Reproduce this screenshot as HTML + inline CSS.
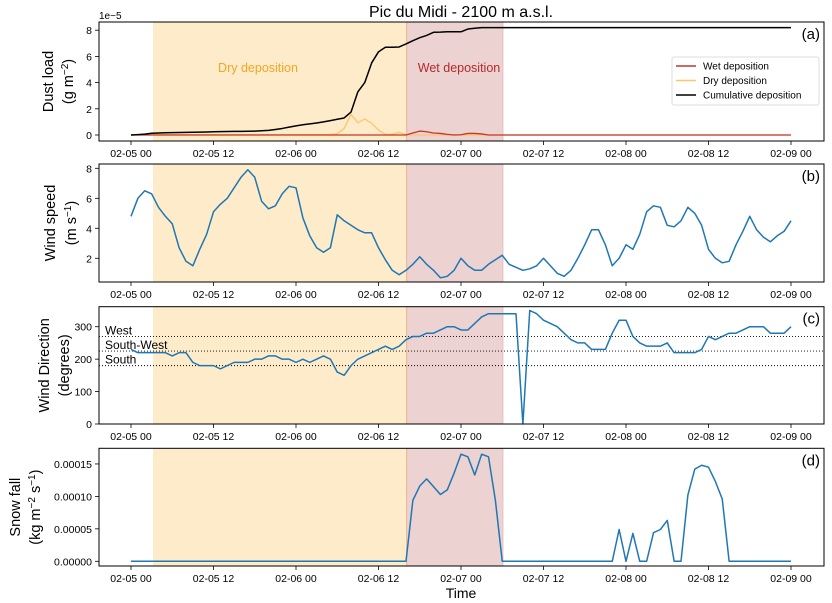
<!DOCTYPE html>
<html><head><meta charset="utf-8"><style>
body{margin:0;background:#fff;}
svg{display:block;font-family:"Liberation Sans","DejaVu Sans",sans-serif;}
</style></head><body>
<svg id="chart" width="832" height="603" viewBox="0 0 832 603" xmlns="http://www.w3.org/2000/svg">
<text x="461" y="17" font-size="16" text-anchor="middle">Pic du Midi - 2100 m a.s.l.</text>
<text x="461" y="598" font-size="14" text-anchor="middle">Time</text>
</svg>
<script>
// ---- data (hourly from 02-05 00 to 02-09 00) ----
const xTickLabels = ["02-05 00","02-05 12","02-06 00","02-06 12","02-07 00","02-07 12","02-08 00","02-08 12","02-09 00"];
const xTickHours = [0,12,24,36,48,60,72,84,96];
const dryPeriod = [3.2, 40.1];
const wetPeriod = [40.1, 54.1];
const cumulative = [0,0.03,0.07,0.13,0.15,0.17,0.18,0.19,0.2,0.21,0.22,0.23,0.25,0.26,0.27,0.28,0.28,0.29,0.3,0.32,0.35,0.42,0.5,0.6,0.7,0.78,0.85,0.92,1.0,1.1,1.2,1.3,1.75,3.3,4.0,5.5,6.35,6.7,6.7,6.72,6.95,7.2,7.43,7.6,7.84,7.85,7.88,7.88,7.88,8.09,8.15,8.2,8.2,8.2,8.2,8.2,8.2,8.2,8.2,8.2,8.2,8.2,8.2,8.2,8.2,8.2,8.2,8.2,8.2,8.2,8.2,8.2,8.2,8.2,8.2,8.2,8.2,8.2,8.2,8.2,8.2,8.2,8.2,8.2,8.2,8.2,8.2,8.2,8.2,8.2,8.2,8.2,8.2,8.2,8.2,8.2,8.2];
const dryDep = [0,0.02,0.02,0.03,0.03,0.03,0.03,0.03,0.03,0.03,0.03,0.03,0.03,0.03,0.03,0.03,0.03,0.03,0.03,0.03,0.03,0.03,0.03,0.03,0.03,0.03,0.03,0.03,0.03,0.05,0.1,0.5,1.58,0.94,1.22,0.9,0.38,0.05,0.05,0.2,0.05,0,0,0,0,0,0,0,0,0,0,0,0,0,0,0,0,0,0,0,0,0,0,0,0,0,0,0,0,0,0,0,0,0,0,0,0,0,0,0,0,0,0,0,0,0,0,0,0,0,0,0,0,0,0,0,0];
const wetDep = [0,0,0,0,0,0,0,0,0,0,0,0,0,0,0,0,0,0,0,0,0,0,0,0,0,0,0,0,0,0,0,0,0,0,0,0,0,0,0,0,0,0.15,0.3,0.25,0.15,0.12,0.05,0,0.02,0.12,0.12,0.08,0,0,0,0,0,0,0,0,0,0,0,0,0,0,0,0,0,0,0,0,0,0,0,0,0,0,0,0,0,0,0,0,0,0,0,0,0,0,0,0,0,0,0,0,0];
const windSpeed = [4.8,6.0,6.5,6.3,5.4,4.8,4.3,2.7,1.8,1.5,2.6,3.6,5.1,5.6,6.0,6.7,7.4,7.9,7.4,5.8,5.3,5.5,6.3,6.8,6.7,4.7,3.5,2.7,2.4,2.7,4.9,4.5,4.2,3.9,3.7,3.7,2.7,1.9,1.2,0.9,1.2,1.6,2.1,1.6,1.2,0.7,0.8,1.2,2.0,1.5,1.2,1.2,1.6,1.9,2.2,1.6,1.4,1.2,1.3,1.5,2.0,1.5,1.0,0.8,1.2,2.0,2.9,3.9,3.9,2.9,1.5,2.0,2.9,2.6,3.6,5.1,5.5,5.4,4.2,4.1,4.5,5.4,5.0,4.2,2.6,2.0,1.7,1.8,2.9,3.8,4.8,3.9,3.4,3.1,3.5,3.8,4.5];
const windDir = [230,220,220,220,220,220,210,220,220,190,180,180,180,170,180,190,190,190,200,200,210,210,200,200,190,200,190,200,210,200,160,150,180,200,210,220,230,240,230,240,260,270,270,280,280,290,300,300,290,290,310,330,340,340,340,340,340,0,350,340,320,310,300,280,260,250,250,230,230,230,280,320,320,270,250,240,240,240,250,220,220,220,220,230,270,260,270,280,280,290,300,300,300,280,280,280,300];
const snowFall = [0,0,0,0,0,0,0,0,0,0,0,0,0,0,0,0,0,0,0,0,0,0,0,0,0,0,0,0,0,0,0,0,0,0,0,0,0,0,0,0,0,9.4,11.6,12.7,11.5,10.3,11.0,13.6,16.5,16.1,13.3,16.5,16.1,9.4,0,0,0,0,0,0,0,0,0,0,0,0,0,0,0,0,0,4.9,0,4.3,0,0,4.4,4.9,6.3,0,0,10.2,14.2,14.8,14.5,12.3,9.6,0,0,0,0,0,0,0,0,0,0];
const dustTicks = [0,2,4,6,8];
const speedTicks = [2,4,6,8];
const dirTicks = [0,100,200,300];
const snowTicks = [0,5,10,15];
const snowTickLabels = ["0.00000","0.00005","0.00010","0.00015"];
const dirRefs = [270,225,180];
const dirRefLabels = ["West","South-West","South"];

const NS="http://www.w3.org/2000/svg";
const svg=document.getElementById('chart');
const X0=99,X1=824;
const xs=h=>131+h*6.875;
function el(tag,attrs,parent){const e=document.createElementNS(NS,tag);for(const k in attrs)e.setAttribute(k,attrs[k]);(parent||svg).appendChild(e);return e;}

const panels=[
 {key:'a',top:22,bot:141,y0v:0,y0p:135,scale:13.1,ticks:dustTicks,labels:dustTicks.map(String),ylab:["Dust load","(g m<sup>−2</sup>)"],lx:[48,68]},
 {key:'b',top:164,bot:282,y0v:2,y0p:258.3,scale:15.0,ticks:speedTicks,labels:speedTicks.map(String),ylab:["Wind speed","(m s<sup>−1</sup>)"],lx:[50,71]},
 {key:'c',top:306.7,bot:424,y0v:0,y0p:424,scale:0.3243,ticks:dirTicks,labels:dirTicks.map(String),ylab:["Wind Direction","(degrees)"],lx:[44,64]},
 {key:'d',top:448.3,bot:566,y0v:0,y0p:561.3,scale:6.49,ticks:snowTicks,labels:snowTickLabels,ylab:["Snow fall","(kg m<sup>−2</sup> s<sup>−1</sup>)"],lx:[15,35]}
];
panels.forEach(p=>{p.ys=v=>p.y0p-(v-p.y0v)*p.scale;});

function path(p,arr,color,w,name){
  const d=arr.map((v,i)=>(i?'L':'M')+xs(i).toFixed(2)+','+p.ys(v).toFixed(2)).join('');
  const e=el('path',{d:d,fill:'none',stroke:color,'stroke-width':w,'stroke-linejoin':'round'});
  
  
}

panels.forEach(p=>{
  const g=el('g',{});
  
  
  const dry=el('rect',{x:xs(dryPeriod[0]),y:p.top,width:xs(dryPeriod[1])-xs(dryPeriod[0]),height:p.bot-p.top,fill:'#fdebca'},g);
  
  
  const wet=el('rect',{x:xs(wetPeriod[0]),y:p.top,width:xs(wetPeriod[1])-xs(wetPeriod[0]),height:p.bot-p.top,fill:'#edd2d2'},g);
  
  
  el('line',{x1:xs(wetPeriod[0]),x2:xs(wetPeriod[0]),y1:p.top,y2:p.bot,stroke:'#eab08a','stroke-width':1},g);
  el('line',{x1:xs(wetPeriod[1]),x2:xs(wetPeriod[1]),y1:p.top,y2:p.bot,stroke:'#e6c0c0','stroke-width':1},g);
  // y ticks
  p.ticks.forEach((t,i)=>{
    const y=p.ys(t);
    el('line',{x1:X0-4,x2:X0,y1:y,y2:y,stroke:'#000','stroke-width':0.8},g);
    const tx=el('text',{x:X0-7,y:y+4,'font-size':10.5,'text-anchor':'end'},g);
    tx.textContent=p.labels[i];
    
    
  });
  // x ticks
  xTickHours.forEach((h,i)=>{
    el('line',{x1:xs(h),x2:xs(h),y1:p.bot,y2:p.bot+4,stroke:'#000','stroke-width':0.8},g);
    const tx=el('text',{x:xs(h),y:p.bot+16,'font-size':10.5,'text-anchor':'middle'},g);
    tx.textContent=xTickLabels[i];
    
    
  });
  // y label
  const cy=(p.top+p.bot)/2;
  p.ylab.forEach((s,i)=>{
    const fo=el('text',{x:0,y:0,'font-size':14.5,'text-anchor':'middle',transform:`translate(${p.lx[i]+5},${cy}) rotate(-90)`},g);
    fo.innerHTML=s.replace(/<sup>(.*?)<\/sup>/g,'<tspan baseline-shift="super" font-size="10">$1</tspan>');
    
    
  });
  const lab=el('text',{x:820,y:p.top+17,'font-size':15,'text-anchor':'end'},g);
  lab.textContent='('+p.key+')';
  
  
});

const [pa,pb,pc,pd]=panels;
// panel a
path(pa,dryDep,'#fec66a',1.3,'dry-deposition-line');
path(pa,wetDep,'#c0392b',1.3,'wet-deposition-line');
path(pa,cumulative,'#000',1.5,'cumulative-deposition-line');
let t=el('text',{x:258,y:72,'font-size':12.5,'text-anchor':'middle',fill:'#f5a623'});
t.textContent='Dry deposition';


t=el('text',{x:459,y:72,'font-size':12.5,'text-anchor':'middle',fill:'#b52a2a'});
t.textContent='Wet deposition';


const sci=el('text',{x:99,y:19,'font-size':10});
sci.textContent='1e−5';


// legend
const lg=el('g',{});


el('rect',{x:672,y:57,width:147,height:48,rx:2,fill:'#fff',stroke:'#ddd'},lg);
[['Wet deposition','#c0392b'],['Dry deposition','#fec66a'],['Cumulative deposition','#000']].forEach((e,i)=>{
  const y=66+i*14.5;
  el('line',{x1:676,x2:696,y1:y,y2:y,stroke:e[1],'stroke-width':1.5},lg);
  const tt=el('text',{x:703,y:y+3.5,'font-size':10},lg);
  tt.textContent=e[0];
  
  
});
// panel b
path(pb,windSpeed,'#1f77b4',1.5,'wind-speed-line');
// panel c
dirRefs.forEach((v,i)=>{
  const l=el('line',{x1:X0,x2:X1,y1:pc.ys(v),y2:pc.ys(v),stroke:'#000','stroke-width':0.9,'stroke-dasharray':'1,2'});
  
  
  const tt=el('text',{x:105,y:pc.ys(v)-2,'font-size':12});
  tt.textContent=dirRefLabels[i];
  
  
});
path(pc,windDir,'#1f77b4',1.5,'wind-direction-line');
// panel d
path(pd,snowFall,'#1f77b4',1.5,'snowfall-line');
// frames
panels.forEach(p=>{
  const f=el('rect',{x:X0,y:p.top,width:X1-X0,height:p.bot-p.top,fill:'none',stroke:'#000','stroke-width':1});
  
  
});
</script>
</body></html>
